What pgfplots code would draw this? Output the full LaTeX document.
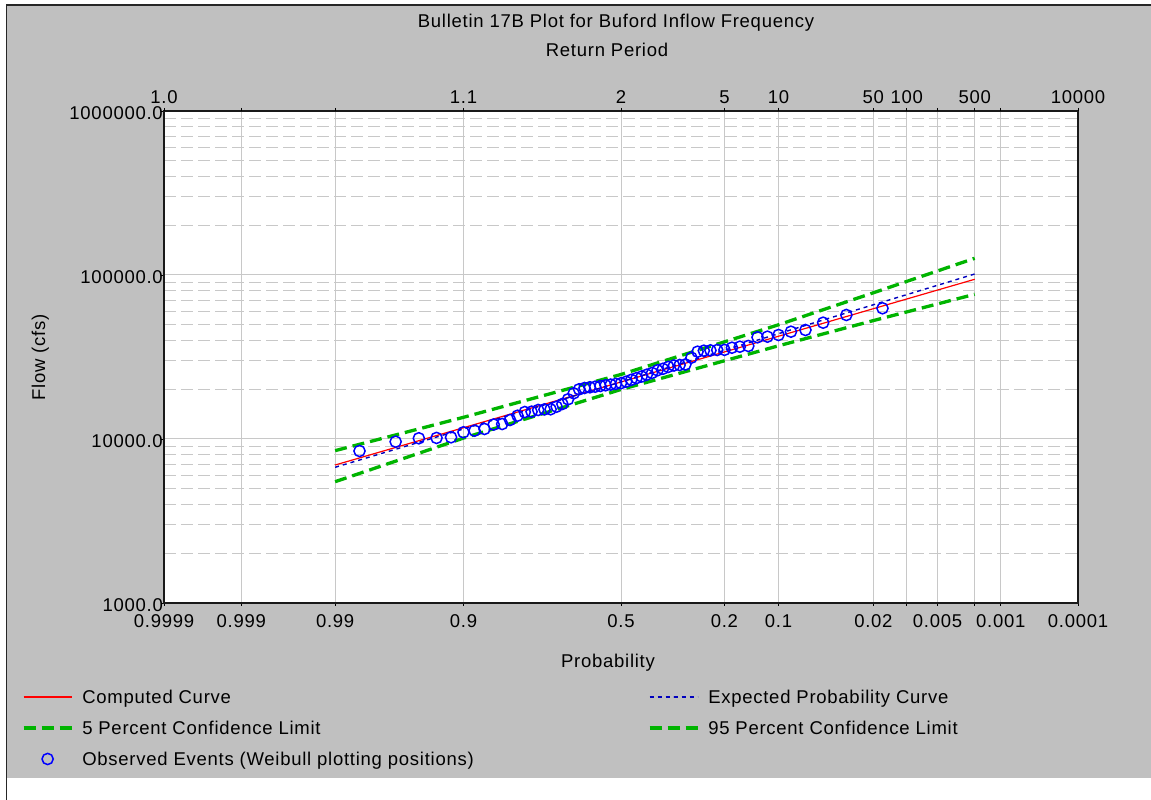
\documentclass[border=0pt]{standalone}
\usepackage{pgfplots}
\pgfplotsset{compat=1.18}
\usepackage{pgfplotstable}
\usepackage{fontspec}
\setmainfont{Liberation Sans}[LetterSpace=4]
\definecolor{panel}{RGB}{192,192,192}
\definecolor{gridc}{RGB}{200,200,200}
\definecolor{confgreen}{RGB}{0,180,0}
\definecolor{expblue}{RGB}{0,0,190}
\newcommand{\chartfont}{\fontsize{18.5}{22}\selectfont}

% observed events: standard normal deviate of Weibull position k/60, flow (cfs)
\pgfplotstableread{
z Q
-2.128 8450
-1.834 9630
-1.645 10100
-1.501 10150
-1.383 10240
-1.282 10990
-1.192 11240
-1.111 11510
-1.036 12250
-0.967 12340
-0.903 13060
-0.842 13870
-0.783 14600
-0.728 14680
-0.674 15030
-0.623 15150
-0.573 15180
-0.524 15740
-0.477 16350
-0.431 17460
-0.385 19000
-0.341 20090
-0.297 20460
-0.253 20660
-0.210 20840
-0.168 21050
-0.126 21250
-0.084 21460
-0.042 21680
0.000 21890
0.042 22360
0.084 22960
0.126 23510
0.168 24050
0.210 24670
0.253 25290
0.297 26230
0.341 26790
0.385 27520
0.431 28070
0.477 28260
0.524 28470
0.573 31320
0.623 34070
0.674 34550
0.728 34700
0.783 34900
0.842 34950
0.903 36030
0.967 36540
1.036 36910
1.111 41700
1.192 42060
1.282 43070
1.383 45110
1.501 46200
1.645 51190
1.834 57030
2.128 62660
}\observed

\begin{document}
\begin{tikzpicture}[x=1pt,y=1pt,font=\chartfont]
\useasboundingbox (0,0) rectangle (1151,800);
\fill[white] (0,0) rectangle (1151,800);
\fill[panel] (7,22) rectangle (1151,794);
\draw[line width=1.8pt,black!85] (6.5,0) -- (6.5,795) -- (1151,795);

\begin{axis}[
  at={(164pt,197pt)}, anchor=south west,
  scale only axis, width=914pt, height=492pt,
  xmin=-3.719, xmax=3.719,
  ymode=log, ymin=1000, ymax=1000000,
  axis background/.style={fill=white},
  xtick={-3.719,-3.0902,-2.3263,-1.2816,0,0.8416,1.2816,2.0537,2.3263,2.5758,2.8782,3.0902,3.719},
  xticklabels={0.9999,0.999,0.99,0.9,0.5,0.2,0.1,0.02,,0.005,,0.001,0.0001},
  ytick={1000,10000,100000,1000000},
  yticklabels={1000.0,10000.0,100000.0,1000000.0},
  minor ytick={2000,3000,4000,5000,6000,7000,8000,9000,20000,30000,40000,50000,60000,70000,80000,90000,200000,300000,400000,500000,600000,700000,800000,900000},
  xtick pos=bottom, ytick pos=left,
  tick align=outside,
  major tick length=3pt, minor tick length=0pt,
  tick style={black, line width=0.8pt},
  xmajorgrids, ymajorgrids, yminorgrids,
  major grid style={gridc, line width=1pt},
  minor grid style={gridc, line width=1pt, dash pattern=on 12pt off 5pt},
  axis line style={black!90, line width=1.4pt},
  xticklabel style={anchor=north, inner sep=0pt, yshift=-8pt, font=\chartfont},
  yticklabel style={anchor=east, inner sep=0pt, xshift=2pt, yshift=-2pt, font=\chartfont},
  legend cell align=left,
  legend image code/.code={\draw[mark repeat=2,mark phase=2,#1] plot coordinates {(0pt,0pt) (24pt,0pt) (48pt,0pt)};},
  legend style={at={(-0.1554,-0.1768)}, anchor=north west, draw=none, fill=none,
    inner sep=0pt, outer sep=0pt, row sep=17pt,
    nodes={inner sep=0pt, text height=13.5pt, text depth=0.5pt, font=\chartfont},
    /tikz/every odd column/.append style={column sep=9pt}},
]
\addplot[red, line width=1.2pt] coordinates {(-2.3263,6940) (0,22270) (2.8782,94150)};
\addlegendentry{Computed Curve}
\addplot[expblue, line width=1.4pt, dash pattern=on 4pt off 4pt, forget plot] coordinates {
  (-2.3263,6720) (0,22270) (1.627,52640) (2.8782,101400)};
\addplot[confgreen, line width=3.3pt, dash pattern=on 12pt off 6pt] coordinates {
  (-2.3263,8490) (-1.2816,13560) (0,24740) (1.2816,49700) (2.0537,77900) (2.8782,126400)};
\addlegendentry{5 Percent Confidence Limit}
\addplot[confgreen, line width=3.3pt, dash pattern=on 12pt off 6pt, forget plot] coordinates {
  (-2.3263,5490) (-1.2816,10130) (0,20040) (1.2816,37010) (2.0537,52720) (2.8782,76270)};
\addplot[only marks, mark=o, mark size=5.6pt, blue, mark options={solid, line width=1.5pt}] table[x=z, y=Q] {\observed};
\addlegendentry{Observed Events (Weibull plotting positions)}
\end{axis}

\begin{axis}[
  at={(164pt,197pt)}, anchor=south west,
  scale only axis, width=914pt, height=492pt,
  xmin=-3.719, xmax=3.719, ymin=0, ymax=1,
  axis x line*=top, axis y line=none,
  axis line style={draw=none},
  xtick={-3.719,-3.0902,-2.3263,-1.2816,0,0.8416,1.2816,2.0537,2.3263,2.5758,2.8782,3.0902,3.719},
  xticklabels={1.0,,,1.1,2,5,10,50,100,,500,,10000},
  tick align=outside, major tick length=3pt,
  tick style={black, line width=0.8pt},
  xticklabel style={anchor=south, inner sep=0pt, yshift=4pt, font=\chartfont},
  legend cell align=left,
  legend image code/.code={\draw[mark repeat=2,mark phase=2,#1] plot coordinates {(0pt,0pt) (24pt,0pt) (48pt,0pt)};},
  legend style={at={(0.5295,-0.1768)}, anchor=north west, draw=none, fill=none,
    inner sep=0pt, outer sep=0pt, row sep=17pt,
    nodes={inner sep=0pt, text height=13.5pt, text depth=0.5pt, font=\chartfont},
    /tikz/every odd column/.append style={column sep=9pt}},
]
\addlegendimage{expblue, line width=1.4pt, dash pattern=on 4pt off 4pt}
\addlegendentry{Expected Probability Curve}
\addlegendimage{confgreen, line width=3.3pt, dash pattern=on 12pt off 6pt}
\addlegendentry{95 Percent Confidence Limit}
\end{axis}

\node[anchor=base, inner sep=0pt] at (616,772.3) {Bulletin 17B Plot for Buford Inflow Frequency};
\node[anchor=base, inner sep=0pt] at (607,743.3) {Return Period};
\node[anchor=base, inner sep=0pt] at (608,132.3) {Probability};
\node[anchor=base, inner sep=0pt, rotate=90] at (45,442.5) {Flow (cfs)};
\end{tikzpicture}
\end{document}
